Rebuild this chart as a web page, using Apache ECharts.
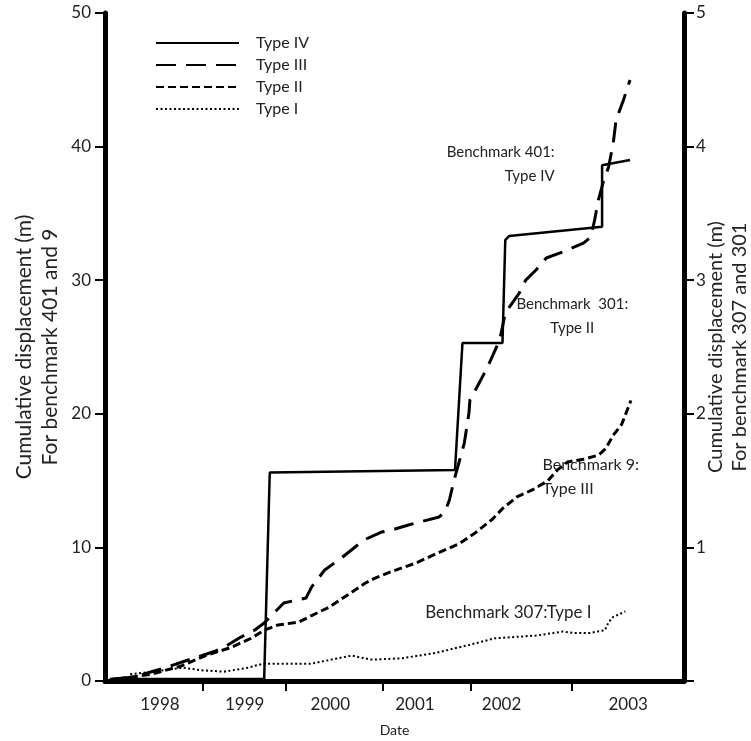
<!DOCTYPE html>
<html><head><meta charset="utf-8">
<script src="https://cdn.jsdelivr.net/npm/echarts@6/dist/echarts.min.js"></script>
<style>html,body{margin:0;padding:0;background:#fff}#c{width:751px;height:741px}</style>
</head><body><div id="c"></div>
<script>
// ---- data (x = decimal year, y = cumulative displacement in m) ----
const seriesNames = ['Type IV', 'Type III', 'Type II', 'Type I'];

// Benchmark 401 (left axis)
const typeIV = [[1997.55,0.15],[1999.21,0.15],[1999.27,15.6],[2001.26,15.8],[2001.34,25.3],[2001.77,25.3],[2001.80,33.0],[2001.84,33.3],[2002.84,34.0],[2002.84,38.6],[2003.14,39.0]];

// Benchmark 9 (left axis)
const typeIII = [[1997.58,0.15],[1997.82,0.3],[1997.99,0.67],[1998.20,1.12],[1998.36,1.5],[1998.53,1.87],[1998.69,2.25],[1998.80,2.62],[1998.96,3.29],[1999.11,3.82],[1999.21,4.34],[1999.42,5.84],[1999.66,6.21],[1999.72,7.04],[1999.86,8.31],[2000.04,9.21],[2000.28,10.55],[2000.47,11.15],[2000.58,11.30],[2000.76,11.68],[2001.09,12.28],[2001.15,12.65],[2001.20,13.55],[2001.25,15.04],[2001.31,16.54],[2001.36,17.81],[2001.41,20.06],[2001.42,21.03],[2001.52,22.31],[2001.61,23.50],[2001.74,25.52],[2001.80,27.54],[2001.95,29.04],[2002.02,30.01],[2002.13,30.76],[2002.24,31.66],[2002.39,32.04],[2002.64,32.78],[2002.72,33.23],[2002.76,34.51],[2002.80,36.00],[2002.85,37.28],[2002.91,38.47],[2002.96,40.27],[2002.99,41.99],[2003.07,43.49],[2003.14,44.99]];

// Benchmark 301 (right axis)
const typeII = [[1997.64,0.015],[1997.99,0.05],[1998.31,0.11],[1998.58,0.19],[1998.85,0.25],[1999.07,0.32],[1999.21,0.38],[1999.36,0.42],[1999.58,0.44],[1999.72,0.49],[1999.90,0.55],[2000.12,0.65],[2000.29,0.73],[2000.40,0.77],[2000.58,0.82],[2000.83,0.88],[2001.05,0.95],[2001.31,1.03],[2001.48,1.11],[2001.66,1.21],[2001.77,1.29],[2001.93,1.38],[2002.09,1.43],[2002.26,1.50],[2002.36,1.58],[2002.47,1.64],[2002.64,1.66],[2002.80,1.69],[2002.88,1.74],[2002.96,1.84],[2003.05,1.92],[2003.15,2.10]];

// Benchmark 307 (right axis)
const typeI = [[1997.77,0.05],[1998.02,0.07],[1998.34,0.10],[1998.53,0.08],[1998.78,0.07],[1999.04,0.10],[1999.14,0.12],[1999.21,0.13],[1999.58,0.13],[1999.72,0.13],[1999.93,0.16],[2000.15,0.19],[2000.36,0.16],[2000.69,0.17],[2001.05,0.21],[2001.41,0.27],[2001.69,0.32],[2002.13,0.34],[2002.42,0.37],[2002.53,0.36],[2002.71,0.36],[2002.87,0.38],[2002.91,0.44],[2002.96,0.48],[2003.09,0.52]];

// x axis ticks & labels
const xTickPos = [1998.55, 1999.44, 2000.48, 2001.43, 2002.51];
const xLabelPos = [1998.09, 1999.00, 1999.92, 2000.83, 2001.76, 2003.12];
const xLabelText = ['1998', '1999', '2000', '2001', '2002', '2003'];

// annotations: [x, y(left axis), text, align, font size]
const annotations = [
  [2002.33, 38.7, 'Benchmark 401:\nType IV', 'right', 15],
  [2002.52, 27.3, 'Benchmark  301:\nType II', 'center', 15],
  [2002.20, 15.3, 'Benchmark 9:\nType III', 'left', 16],
  [2000.94, 5.1, 'Benchmark 307:Type I', 'left', 17]
];

const FONT = 'Lato, "Open Sans", sans-serif';
const chart = echarts.init(document.getElementById('c'));

function mkSeries(name, data, axis, type, width) {
  return {
    name: name, type: 'line', data: data, yAxisIndex: axis,
    symbol: 'none', smooth: false,
    lineStyle: { color: '#000', width: width, type: type },
    itemStyle: { color: '#000' }
  };
}

const option = {
  animation: false,
  backgroundColor: '#fff',
  textStyle: { fontFamily: FONT },
  grid: { left: 105, right: 67, top: 13, bottom: 60, containLabel: false, outerBoundsMode: 'none' },
  legend: {
    data: seriesNames, orient: 'vertical', left: 150, top: 30,
    itemWidth: 83, itemHeight: 14, itemGap: 6,
    itemStyle: { opacity: 0 },
    textStyle: { fontSize: 16, color: '#222', fontFamily: FONT, padding: [0, 0, 0, 12] }
  },
  xAxis: {
    type: 'value', min: 1997.5, max: 2003.72,
    name: 'Date', nameLocation: 'middle', nameGap: 42, nameMoveOverlap: false,
    nameTextStyle: { fontSize: 14, color: '#222', fontFamily: FONT },
    axisLine: { show: true, onZero: false, lineStyle: { color: '#000', width: 5 } },
    axisTick: { show: true, customValues: xTickPos, length: 10, lineStyle: { color: '#000', width: 2 } },
    axisLabel: {
      customValues: xLabelPos, fontSize: 17, color: '#222', margin: 15, fontFamily: FONT,
      formatter: function (v) {
        const i = xLabelPos.findIndex(p => Math.abs(p - v) < 1e-6);
        return i >= 0 ? xLabelText[i] : '';
      }
    },
    splitLine: { show: false }
  },
  yAxis: [{
    type: 'value', min: 0, max: 50, interval: 10, position: 'left',
    name: 'Cumulative displacement (m)\nFor benchmark 401 and 9',
    nameLocation: 'middle', nameRotate: 90, nameGap: 42, nameMoveOverlap: false,
    nameTextStyle: { fontSize: 21, color: '#222', lineHeight: 26, fontFamily: FONT },
    axisLine: { show: true, lineStyle: { color: '#000', width: 5 } },
    axisTick: { show: true, length: 10, lineStyle: { color: '#000', width: 2 } },
    axisLabel: { fontSize: 17, color: '#222', margin: 14, fontFamily: FONT },
    splitLine: { show: false }
  }, {
    type: 'value', min: 0, max: 5, interval: 1, position: 'right',
    name: 'Cumulative displacement (m)\nFor benchmark 307 and 301',
    nameLocation: 'middle', nameRotate: 90, nameGap: 20, nameMoveOverlap: false,
    nameTextStyle: { fontSize: 20, color: '#222', lineHeight: 24, fontFamily: FONT },
    axisLine: { show: true, lineStyle: { color: '#000', width: 5 } },
    axisTick: { show: true, length: 10, lineStyle: { color: '#000', width: 2 } },
    axisLabel: { fontSize: 17, color: '#222', margin: 12, fontFamily: FONT,
      formatter: function (v) { return v === 0 ? '' : String(v); } },
    splitLine: { show: false }
  }],
  series: [
    mkSeries(seriesNames[0], typeIV, 0, 'solid', 2.5),
    mkSeries(seriesNames[1], typeIII, 0, [20, 10], 3),
    mkSeries(seriesNames[2], typeII, 1, [8, 4], 3),
    mkSeries(seriesNames[3], typeI, 1, [2, 2.5], 2)
  ]
};
chart.setOption(option);

// annotation texts placed through the chart's own scales
const graphics = annotations.map(function (a) {
  const p = chart.convertToPixel({ xAxisIndex: 0, yAxisIndex: 0 }, [a[0], a[1]]);
  return {
    type: 'text', x: p[0], y: p[1], silent: true,
    style: { text: a[2], fontSize: a[4], fontFamily: FONT, fill: '#222',
      align: a[3], verticalAlign: 'middle', lineHeight: 24 }
  };
});
chart.setOption({ graphic: graphics });
</script>
</body></html>
